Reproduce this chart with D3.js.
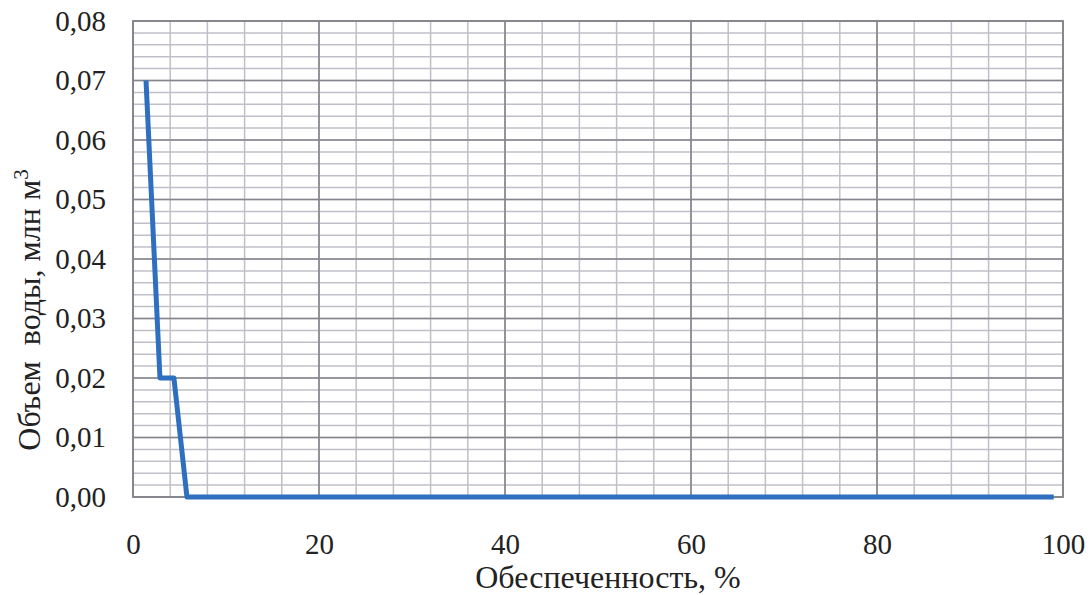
<!DOCTYPE html>
<html>
<head>
<meta charset="utf-8">
<script src="https://cdn.jsdelivr.net/npm/d3@7"></script>
<style>
  body { margin: 0; background: #fff; }
  text { font-family: "Liberation Serif", "Times New Roman", serif; fill: #222; }
</style>
</head>
<body>
<div id="chart"></div>
<script>
// Provision curve: water volume vs. probability
var provision = [1.4, 2.9, 4.4, 5.8, 99];          // Обеспеченность, %
var volume    = [0.07, 0.02, 0.02, 0.0, 0.0];      // млн м3
var xTicks = [0, 20, 40, 60, 80, 100];
var yTicks = [0, 0.01, 0.02, 0.03, 0.04, 0.05, 0.06, 0.07, 0.08];

var width = 1091, height = 595;
var margin = {top: 21, right: 28, bottom: 98, left: 133};
var plotWidth = width - margin.left - margin.right;
var plotHeight = height - margin.top - margin.bottom;

var svg = d3.select('#chart').append('svg')
  .attr('width', width)
  .attr('height', height);
var plot = svg.append('g')
  .attr('transform', 'translate(' + margin.left + ',' + margin.top + ')');

var x = d3.scaleLinear().domain([0, 100]).range([0, plotWidth]);
var y = d3.scaleLinear().domain([0, 0.08]).range([plotHeight, 0]);

// minor grid
plot.append('g')
  .selectAll('line')
  .data(d3.range(0, 100.01, 4))
  .enter().append('line')
  .attr('x1', x).attr('x2', x)
  .attr('y1', 0).attr('y2', plotHeight)
  .attr('stroke', '#bfbfc9').attr('stroke-width', 1.5);
plot.append('g')
  .selectAll('line')
  .data(d3.range(0, 41).map(function(i) { return i * 0.002; }))
  .enter().append('line')
  .attr('x1', 0).attr('x2', plotWidth)
  .attr('y1', y).attr('y2', y)
  .attr('stroke', '#bfbfc9').attr('stroke-width', 1.5);

// major grid
plot.append('g')
  .selectAll('line')
  .data(xTicks)
  .enter().append('line')
  .attr('x1', x).attr('x2', x)
  .attr('y1', 0).attr('y2', plotHeight)
  .attr('stroke', '#85858c').attr('stroke-width', 1.6);
plot.append('g')
  .selectAll('line')
  .data(yTicks)
  .enter().append('line')
  .attr('x1', 0).attr('x2', plotWidth)
  .attr('y1', y).attr('y2', y)
  .attr('stroke', '#85858c').attr('stroke-width', 1.6);

plot.append('rect')
  .attr('width', plotWidth).attr('height', plotHeight)
  .attr('fill', 'none').attr('stroke', '#85858c').attr('stroke-width', 1.8);

// axes (labels only)
var xAxis = plot.append('g')
  .attr('transform', 'translate(0,' + plotHeight + ')')
  .call(d3.axisBottom(x).tickValues(xTicks).tickSize(0).tickPadding(36));
var yAxis = plot.append('g')
  .call(d3.axisLeft(y).tickValues(yTicks).tickSize(0).tickPadding(27)
    .tickFormat(function(d) { return d3.format('.2f')(d).replace('.', ','); }));
[xAxis, yAxis].forEach(function(a) {
  a.select('.domain').remove();
  a.selectAll('text')
    .style('font-family', '"Liberation Serif", serif')
    .style('font-size', '29px')
    .attr('fill', '#222');
});

// curve
var line = d3.line()
  .x(function(d, i) { return x(provision[i]); })
  .y(function(d) { return y(d); });
plot.append('path')
  .datum(volume)
  .attr('d', line)
  .attr('fill', 'none')
  .attr('stroke', '#2f6fc0')
  .attr('stroke-width', 5)
  .attr('stroke-linejoin', 'round');

// axis titles
svg.append('text')
  .attr('x', 608).attr('y', 588)
  .attr('text-anchor', 'middle')
  .style('font-size', '32px')
  .text('Обеспеченность, %');

var yt = svg.append('text')
  .attr('transform', 'translate(40,310) rotate(-90)')
  .attr('text-anchor', 'middle')
  .style('font-size', '32px')
  .attr('xml:space', 'preserve')
  .style('white-space', 'pre');
yt.append('tspan').text('Объем  воды, млн м');
yt.append('tspan').attr('dy', -12).style('font-size', '21px').text('3');
</script>
</body>
</html>
